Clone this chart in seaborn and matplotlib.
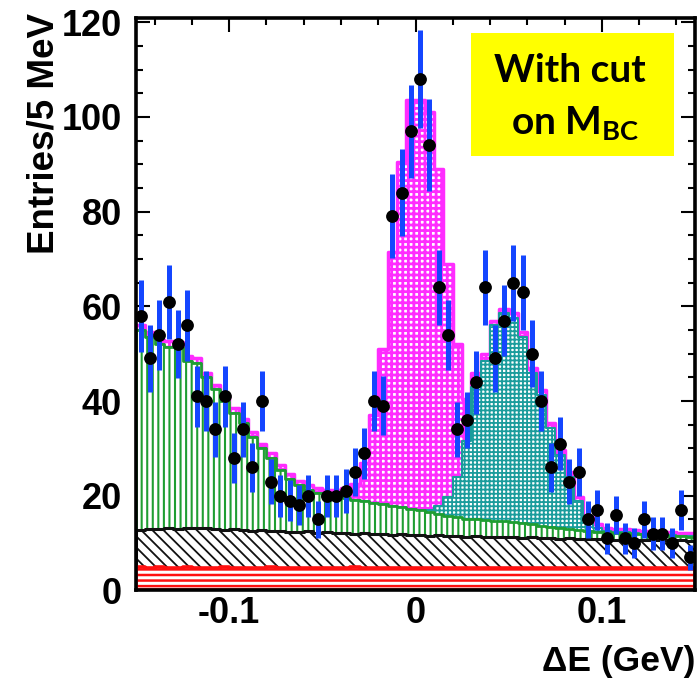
import numpy as np
import pandas as pd
import matplotlib
matplotlib.use("Agg")
import matplotlib as mpl
import matplotlib.pyplot as plt
from matplotlib.patches import Rectangle
from matplotlib.ticker import MultipleLocator, FuncFormatter
import seaborn as sns

# ---------------- data (60 bins of 5 MeV from -0.15 to 0.15 GeV) ----------------
de_min, de_max, n_bins = -0.15, 0.15, 60

data_counts = [58, 49, 54, 61, 52, 56, 41, 40, 34, 41,
               28, 34, 26, 40, 23, 20, 19, 18, 20, 15,
               20, 20, 21, 25, 29, 40, 39, 79, 84, 97,
               108, 94, 64, 54, 34, 36, 44, 64, 49, 57,
               65, 63, 50, 40, 26, 31, 23, 25, 15, 17,
               11, 16, 11, 10, 15, 12, 12, 10, 17, 7]

red_bkg = [4.9, 4.8, 4.9, 4.7, 4.8, 4.9, 4.8, 4.7, 4.8, 4.9,
           4.8, 4.7, 4.8, 4.8, 4.9, 4.7, 4.8, 4.8, 4.7, 4.8,
           4.8, 4.7, 4.8, 4.9, 4.7, 4.8, 4.8, 4.7, 4.8, 4.7,
           4.8, 4.7, 4.8, 4.8, 4.7, 4.8, 4.7, 4.8, 4.7, 4.8,
           4.7, 4.8, 4.7, 4.8, 4.7, 4.8, 4.7, 4.7, 4.8, 4.7,
           4.7, 4.8, 4.7, 4.7, 4.8, 4.7, 4.7, 4.8, 4.7, 4.7]

black_bkg = [7.9, 8.1, 8.1, 8.4, 8.2, 8.3, 8.3, 8.6, 8.2, 7.9,
             8.1, 8.0, 7.8, 8.0, 7.6, 7.9, 7.5, 7.6, 7.8, 7.4,
             7.5, 7.4, 7.4, 7.1, 7.4, 7.1, 7.2, 7.1, 7.1, 7.0,
             7.0, 6.9, 6.9, 6.7, 6.9, 6.6, 6.8, 6.5, 6.7, 6.4,
             6.6, 6.3, 6.5, 6.2, 6.4, 6.1, 6.3, 6.1, 6.1, 6.1,
             6.2, 5.9, 6.1, 5.9, 5.9, 5.9, 6.0, 5.7, 5.9, 5.8]

green_bkg = [42.2, 40.6, 39.0, 38.4, 38.5, 35.3, 34.9, 31.7, 29.5, 27.2,
             24.6, 22.6, 19.9, 17.2, 15.5, 12.9, 11.2, 9.8, 8.7, 8.4,
             7.7, 7.7, 7.4, 7.2, 6.7, 6.6, 6.2, 6.1, 5.7, 5.6,
             5.2, 5.0, 4.5, 4.3, 3.9, 3.8, 3.5, 3.5, 3.3, 3.4,
             3.2, 3.2, 2.8, 2.7, 2.3, 2.2, 1.9, 1.9, 1.6, 1.6,
             1.4, 1.5, 1.3, 1.4, 1.2, 1.2, 1.0, 1.1, 0.9, 0.9]

teal_peak = [0, 0, 0, 0, 0, 0, 0, 0, 0, 0,
             0, 0, 0, 0, 0, 0, 0, 0, 0, 0,
             0, 0, 0, 0, 0, 0, 0, 0, 0, 0,
             0, 0.5, 1.6, 3.9, 8.5, 16.3, 28.0, 33.7, 41.3, 43.9,
             43.0, 39.2, 32.0, 27.6, 20.9, 15.6, 11.1, 6.1, 2.1, 0.8,
             0.3, 0.2, 0.2, 0.1, 0.1, 0.1, 0.1, 0.1, 0.1, 0.1]

magenta_sig = [1.0, 1.0, 1.0, 1.1, 0.9, 1.0, 1.0, 1.0, 1.0, 1.0,
               1.0, 1.0, 1.0, 1.0, 1.0, 1.0, 1.0, 1.0, 1.0, 1.1,
               1.2, 1.4, 2.0, 3.3, 8.2, 18.5, 32.8, 53.6, 72.9, 86.2,
               86.5, 83.9, 71.2, 49.3, 28.0, 9.0, 3.0, 1.5, 1.0, 1.0,
               1.0, 1.0, 1.0, 1.0, 1.0, 0.9, 1.0, 0.9, 0.9, 0.8,
               0.6, 0.6, 0.6, 0.6, 0.6, 0.6, 0.6, 0.6, 0.6, 0.6]

y_ticks = [0, 20, 40, 60, 80, 100, 120]
x_ticks = [-0.1, 0.0, 0.1]

# ---------------- style ----------------
sns.set_theme(style="ticks")
plt.rcParams["font.family"] = ["Liberation Sans", "DejaVu Sans"]
plt.rcParams["font.weight"] = "bold"
plt.rcParams["axes.unicode_minus"] = False
plt.rcParams["text.color"] = "black"
plt.rcParams["axes.labelcolor"] = "black"
plt.rcParams["xtick.color"] = "black"
plt.rcParams["ytick.color"] = "black"
plt.rcParams["mathtext.fontset"] = "custom"
plt.rcParams["mathtext.rm"] = "Lato:bold"
plt.rcParams["mathtext.bf"] = "Lato:bold"

edges = np.linspace(de_min, de_max, n_bins + 1)
centers = 0.5 * (edges[:-1] + edges[1:])

fig = plt.figure(figsize=(6.99, 6.81), dpi=100)
ax = fig.add_axes([0.1946, 0.1329, 0.7997, 0.8414])

components = [red_bkg, black_bkg, green_bkg, teal_peak, magenta_sig]
cum = np.cumsum(np.array(components, dtype=float), axis=0)

# (hatch colour, hatch, hatch linewidth, edge linewidth, face colour)
styles = [
    ("#ff1010", "---", 1.8, 2.6, "white"),
    ("#111111", "\\\\\\", 1.3, 2.2, "white"),
    ("#1f9e32", "|||", 1.5, 2.0, "white"),
    ("#1a9c9c", "++++", 1.3, 1.5, "white"),
    ("#ff2cff", "+++", 2.0, 2.5, "white"),
]

for k in reversed(range(len(components))):
    col, hat, hlw, elw, face = styles[k]
    layer = pd.DataFrame({"dE": centers, "w": cum[k]})
    with mpl.rc_context({"hatch.linewidth": hlw}):
        sns.histplot(data=layer, x="dE", weights="w", bins=list(edges),
                     element="step", fill=True, color=col, alpha=1,
                     linewidth=elw, edgecolor=col, ax=ax)
        coll = ax.collections[-1]
        coll.set_alpha(1)
        coll.set_facecolor(face)
        coll.set_edgecolor(col)
        coll.set_hatch(hat)
        if hasattr(coll, "set_hatch_linewidth"):
            coll.set_hatch_linewidth(hlw)

# data points with Poisson errors
counts = np.array(data_counts, dtype=float)
ax.errorbar(centers, counts, yerr=np.sqrt(counts), fmt="none",
            ecolor="#1446ff", elinewidth=3.6, capsize=0, zorder=4)
sns.scatterplot(x=centers, y=counts, color="black", s=85, linewidth=0,
                zorder=5, ax=ax, legend=False)

# axes
ax.set_xlim(de_min, de_max)
ax.set_ylim(0, 121)
ax.set_xticks(x_ticks)
ax.set_yticks(y_ticks)
ax.xaxis.set_minor_locator(MultipleLocator(0.02))
ax.yaxis.set_minor_locator(MultipleLocator(5))
ax.xaxis.set_major_formatter(FuncFormatter(lambda v, p: "0" if abs(v) < 1e-9 else f"{v:g}"))
ax.tick_params(which="both", direction="in", top=True, right=True,
               color="black", labelcolor="black", width=1.5)
ax.tick_params(which="major", length=10, labelsize=26)
ax.tick_params(axis="x", which="major", pad=4)
ax.tick_params(axis="y", which="major", pad=10)
ax.tick_params(which="minor", length=5)
for lab in ax.get_xticklabels() + ax.get_yticklabels():
    lab.set_fontweight("bold")
for sp in ax.spines.values():
    sp.set_linewidth(2.6)
    sp.set_color("black")
    sp.set_zorder(6)

ax.set_ylabel("Entries/5 MeV", fontsize=26.5, fontweight="bold", loc="top",
              color="black")
ax.yaxis.set_label_coords(-0.134, 1.008)
ax.set_xlabel("\u0394E (GeV)", fontsize=25.5, fontweight="bold", loc="right",
              color="black")
ax.xaxis.set_label_coords(1.0, -0.095)

# yellow annotation box
fig.patches.append(Rectangle((0.674, 0.771), 0.290, 0.1805,
                             transform=fig.transFigure, facecolor="#ffff00",
                             edgecolor="none", zorder=3))
fig.text(0.7072, 0.880, "With cut", ha="left", va="baseline", color="black",
         fontsize=28, family="Lato", fontweight="bold", zorder=4)
fig.text(0.731, 0.8018, r"on M$_{\mathbf{BC}}$", ha="left", va="baseline",
         color="black", fontsize=28, family="Lato", fontweight="bold", zorder=4)

fig.savefig("out.png", dpi=100)
